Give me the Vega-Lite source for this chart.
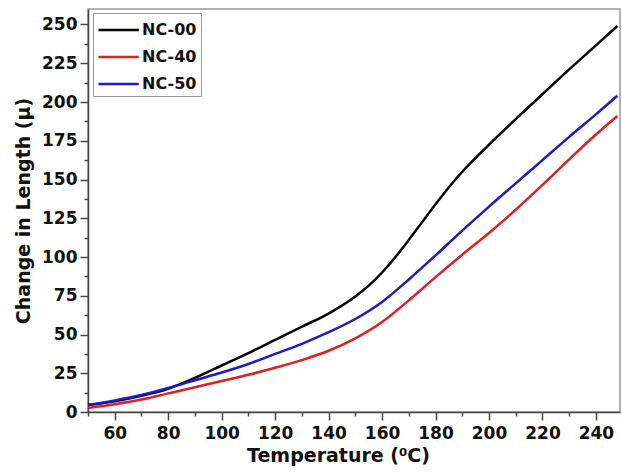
{
  "$schema": "https://vega.github.io/schema/vega-lite/v6.json",
  "width": 532,
  "height": 403,
  "autosize": {"type": "none"},
  "padding": {"left": 88, "top": 9, "right": 2, "bottom": 60},
  "background": "white",
  "config": {
    "view": {"stroke": "#999999", "strokeWidth": 1.5},
    "font": "DejaVu Sans",
    "axis": {"grid": false, "domainColor": "#444", "domainWidth": 1.5, "tickColor": "#444", "tickWidth": 1.5, "labelFont": "DejaVu Sans", "labelFontWeight": "bold", "labelFontSize": 17, "labelColor": "#111", "titleFont": "DejaVu Sans", "titleFontWeight": "bold", "titleFontSize": 19, "titleColor": "#111"}
  },
  "data": {"values": [
    {"t": 50, "v": 4.5, "s": "NC-00"}, {"t": 60, "v": 7, "s": "NC-00"}, {"t": 70, "v": 10.5, "s": "NC-00"}, {"t": 80, "v": 15, "s": "NC-00"}, {"t": 90, "v": 22, "s": "NC-00"}, {"t": 100, "v": 30, "s": "NC-00"}, {"t": 110, "v": 38, "s": "NC-00"}, {"t": 120, "v": 46.5, "s": "NC-00"}, {"t": 130, "v": 55, "s": "NC-00"}, {"t": 140, "v": 63.5, "s": "NC-00"}, {"t": 150, "v": 74.5, "s": "NC-00"}, {"t": 155, "v": 81.5, "s": "NC-00"}, {"t": 160, "v": 90, "s": "NC-00"}, {"t": 165, "v": 100, "s": "NC-00"}, {"t": 170, "v": 111, "s": "NC-00"}, {"t": 175, "v": 122.5, "s": "NC-00"}, {"t": 180, "v": 134, "s": "NC-00"}, {"t": 185, "v": 145, "s": "NC-00"}, {"t": 190, "v": 155, "s": "NC-00"}, {"t": 195, "v": 164, "s": "NC-00"}, {"t": 200, "v": 172.5, "s": "NC-00"}, {"t": 210, "v": 189, "s": "NC-00"}, {"t": 220, "v": 205, "s": "NC-00"}, {"t": 230, "v": 221, "s": "NC-00"}, {"t": 240, "v": 236.5, "s": "NC-00"}, {"t": 248, "v": 249, "s": "NC-00"},
    {"t": 50, "v": 2.6, "s": "NC-40"}, {"t": 60, "v": 5, "s": "NC-40"}, {"t": 70, "v": 8, "s": "NC-40"}, {"t": 80, "v": 12, "s": "NC-40"}, {"t": 90, "v": 16, "s": "NC-40"}, {"t": 100, "v": 20, "s": "NC-40"}, {"t": 110, "v": 24, "s": "NC-40"}, {"t": 120, "v": 28.5, "s": "NC-40"}, {"t": 130, "v": 33.5, "s": "NC-40"}, {"t": 140, "v": 39.5, "s": "NC-40"}, {"t": 150, "v": 47.5, "s": "NC-40"}, {"t": 160, "v": 58, "s": "NC-40"}, {"t": 170, "v": 72, "s": "NC-40"}, {"t": 180, "v": 87, "s": "NC-40"}, {"t": 190, "v": 101.5, "s": "NC-40"}, {"t": 200, "v": 115.5, "s": "NC-40"}, {"t": 210, "v": 130.5, "s": "NC-40"}, {"t": 220, "v": 146.5, "s": "NC-40"}, {"t": 230, "v": 163, "s": "NC-40"}, {"t": 240, "v": 179, "s": "NC-40"}, {"t": 248, "v": 191, "s": "NC-40"},
    {"t": 50, "v": 4.5, "s": "NC-50"}, {"t": 60, "v": 7.5, "s": "NC-50"}, {"t": 70, "v": 11, "s": "NC-50"}, {"t": 80, "v": 15.5, "s": "NC-50"}, {"t": 90, "v": 20.5, "s": "NC-50"}, {"t": 100, "v": 25.5, "s": "NC-50"}, {"t": 110, "v": 31, "s": "NC-50"}, {"t": 120, "v": 37.5, "s": "NC-50"}, {"t": 130, "v": 44, "s": "NC-50"}, {"t": 140, "v": 51.5, "s": "NC-50"}, {"t": 150, "v": 60, "s": "NC-50"}, {"t": 160, "v": 71, "s": "NC-50"}, {"t": 170, "v": 85.5, "s": "NC-50"}, {"t": 180, "v": 101, "s": "NC-50"}, {"t": 190, "v": 117, "s": "NC-50"}, {"t": 200, "v": 132.5, "s": "NC-50"}, {"t": 210, "v": 147.5, "s": "NC-50"}, {"t": 220, "v": 162.5, "s": "NC-50"}, {"t": 230, "v": 177.5, "s": "NC-50"}, {"t": 240, "v": 192, "s": "NC-50"}, {"t": 248, "v": 204, "s": "NC-50"}
  ]},
  "layer": [
    {
      "mark": {"type": "line", "strokeWidth": 0, "opacity": 0},
      "encoding": {
        "x": {"field": "t", "type": "quantitative", "scale": {"domain": [50, 249], "nice": false, "zero": false},
          "axis": {"orient": "bottom", "values": [50, 70, 90, 110, 130, 150, 170, 190, 210, 230], "labels": false, "domain": false, "tickSize": 4, "title": null}},
        "y": {"field": "v", "type": "quantitative", "scale": {"domain": [0, 260], "nice": false},
          "axis": {"orient": "left", "values": [12.5, 37.5, 62.5, 87.5, 112.5, 137.5, 162.5, 187.5, 212.5, 237.5], "labels": false, "domain": false, "tickSize": 4, "title": null}},
        "detail": {"field": "s"}
      }
    },
    {
      "mark": {"type": "line", "strokeWidth": 2.5, "interpolate": "monotone"},
      "encoding": {
        "x": {"field": "t", "type": "quantitative", "scale": {"domain": [50, 249], "nice": false, "zero": false},
          "axis": {"orient": "bottom", "values": [60, 80, 100, 120, 140, 160, 180, 200, 220, 240], "tickSize": 8, "labelPadding": 5, "title": "Temperature (⁰C)", "titlePadding": 5, "titleX": 250}},
        "y": {"field": "v", "type": "quantitative", "scale": {"domain": [0, 260], "nice": false},
          "axis": {"orient": "left", "values": [0, 25, 50, 75, 100, 125, 150, 175, 200, 225, 250], "tickSize": 8, "labelPadding": 3, "title": "Change in Length (μ)", "titlePadding": 8}},
        "color": {"field": "s", "type": "nominal", "scale": {"domain": ["NC-00", "NC-40", "NC-50"], "range": ["#000000", "#e02020", "#1a1ad0"]},
          "legend": {"orient": "none", "legendX": 5, "legendY": 4, "title": null, "symbolType": "M-1,0H2.5", "symbolSize": 529, "symbolStrokeWidth": 2.5, "labelFontSize": 16, "labelFontWeight": "bold", "labelFont": "DejaVu Sans", "labelColor": "#111", "rowPadding": 6, "strokeColor": "#999", "padding": 4, "labelOffset": 19}}
      }
    }
  ],
  "resolve": {"axis": {"x": "independent", "y": "independent"}}
}
